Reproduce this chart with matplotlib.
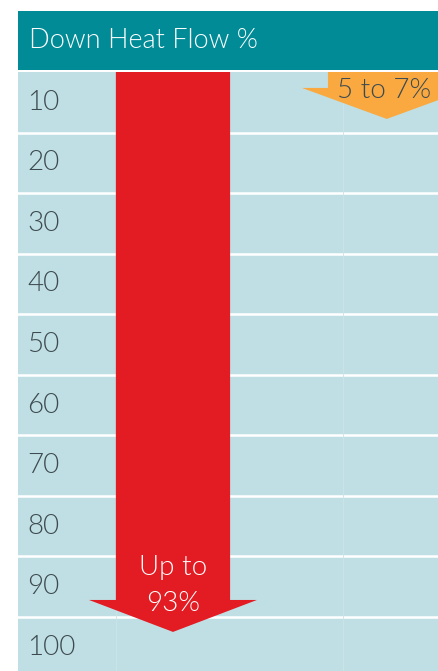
import matplotlib.pyplot as plt
from matplotlib.patches import Polygon, Rectangle

# data
row_values = [10, 20, 30, 40, 50, 60, 70, 80, 90, 100]
header = 'Down Heat Flow %'
up_value = 7        # upward heat flow, 5 to 7%
up_label = '5 to 7%'
down_value = 93     # downward heat flow, up to 93%
down_label = 'Up to\n93%'

teal = '#008b96'
pale = '#c0dfe4'
red = '#e31b23'
orange = '#f9a940'
grey = '#3d4a50'

W, H = 438, 671
fig = plt.figure(figsize=(W / 100, H / 100), dpi=100)
fig.patch.set_facecolor('white')
fam = 'Lato'
wt = 300

# header band
fig.patches.append(Rectangle((18 / W, 1 - 70 / H), 1 - 18 / W, 59 / H,
                             transform=fig.transFigure, facecolor=teal, edgecolor='none'))
fig.text(29 / W, 1 - 41 / H, header, color='white', fontsize=19.5, family=fam,
         fontweight=wt, va='center', ha='left')

# table area, rows of 10 % (0 at top of first row)
rect = [18 / W, 0, 1 - 18 / W, 599 / H]
ax = fig.add_axes(rect)
ax.set_xlim(0, 1)
ax.set_ylim(599 / 6.055, 0)
ax.axis('off')
ax.add_patch(Rectangle((0, 0), 1, 100, facecolor=pale, edgecolor='none', zorder=0))

for v in row_values[:-1]:
    ax.axhline(v, color='white', lw=1.8, zorder=1)
for xv in [0.233, 0.774]:
    ax.axvline(xv, color='#cbe4e8', lw=0.6, zorder=1)

for v in row_values:
    ax.text(0.022, v - 5, str(v), color=grey, fontsize=20, family=fam,
            fontweight=wt, va='center', ha='left', zorder=2)

# arrows drawn on their own heat-flow scale (tips at the percentages)
ax2 = fig.add_axes(rect)
ax2.set_xlim(0, 1)
top, bottom = -0.87, 99.55
ax2.set_ylim(bottom, top)
ax2.axis('off')
ax2.patch.set_alpha(0)


def arrow(cx, shaft, head, value, head_len, color):
    pts = [(cx - shaft, top), (cx + shaft, top), (cx + shaft, value - head_len),
           (cx + head, value - head_len), (cx, value), (cx - head, value - head_len),
           (cx - shaft, value - head_len)]
    ax2.add_patch(Polygon(pts, closed=True, facecolor=color, edgecolor='none', zorder=3))


arrow(0.369, 0.136, 0.2, down_value, 5.36, red)
arrow(0.878, 0.14, 0.202, up_value, 5.2, orange)

ax2.text(0.871, 2.2, up_label, color=grey, fontsize=20, family=fam, fontweight=wt,
         va='center', ha='center', zorder=4)
ax2.text(0.369, 85.2, down_label, color='white', fontsize=20, family=fam, fontweight=wt,
         va='center', ha='center', linespacing=1.55, zorder=4)

fig.savefig('out.png', dpi=100)
